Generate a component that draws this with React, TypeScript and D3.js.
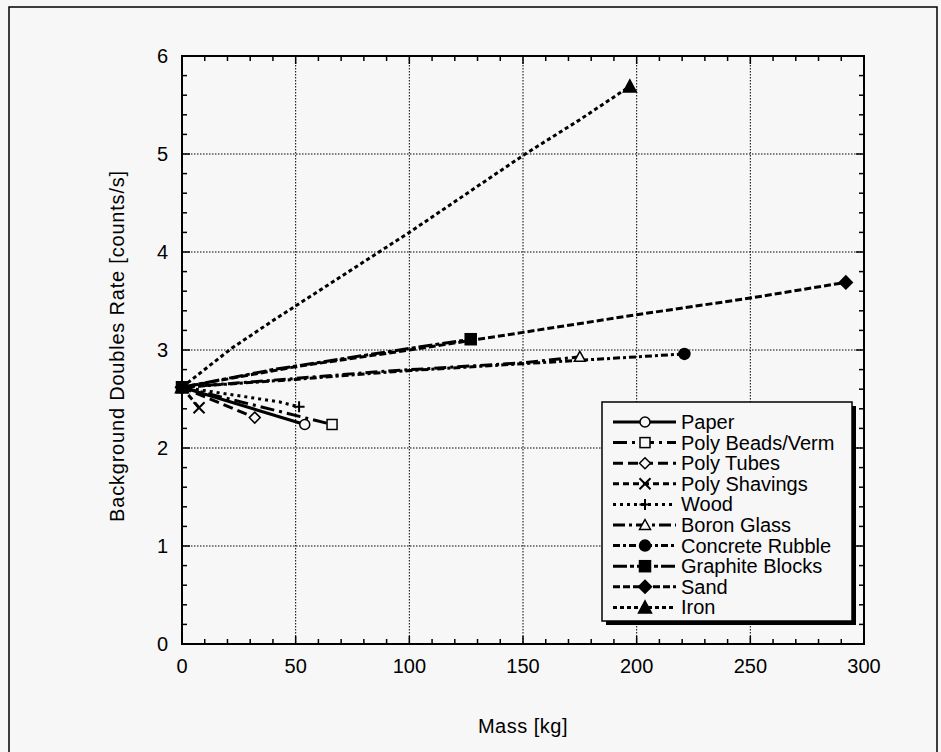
import React from "react";
import * as d3 from "d3";

// ---- data ----
const seriesNames = [
  "Paper",
  "Poly Beads/Verm",
  "Poly Tubes",
  "Poly Shavings",
  "Wood",
  "Boron Glass",
  "Concrete Rubble",
  "Graphite Blocks",
  "Sand",
  "Iron",
];
const paperMass = [0, 54];
const paperRate = [2.62, 2.24];
const beadsMass = [0, 66];
const beadsRate = [2.62, 2.24];
const tubesMass = [0, 32];
const tubesRate = [2.62, 2.31];
const shavingsMass = [0, 7.5];
const shavingsRate = [2.62, 2.41];
const woodMass = [0, 43, 51.5];
const woodRate = [2.62, 2.47, 2.42];
const boronMass = [0, 50, 87, 150, 175];
const boronRate = [2.62, 2.71, 2.78, 2.87, 2.93];
const concreteMass = [0, 50, 100, 150, 200, 221];
const concreteRate = [2.62, 2.7, 2.79, 2.86, 2.93, 2.96];
const graphiteMass = [0, 40, 87, 127];
const graphiteRate = [2.62, 2.8, 2.97, 3.11];
const sandMass = [0, 50, 100, 150, 200, 250, 292];
const sandRate = [2.62, 2.83, 3.0, 3.18, 3.36, 3.53, 3.69];
const ironMass = [0, 22, 40, 100, 151, 175, 197];
const ironRate = [2.62, 3.02, 3.3, 4.2, 5.0, 5.35, 5.69];

const xTicks = [0, 50, 100, 150, 200, 250, 300];
const yTicks = [0, 1, 2, 3, 4, 5, 6];

const massArrays = [paperMass, beadsMass, tubesMass, shavingsMass, woodMass, boronMass, concreteMass, graphiteMass, sandMass, ironMass];
const rateArrays = [paperRate, beadsRate, tubesRate, shavingsRate, woodRate, boronRate, concreteRate, graphiteRate, sandRate, ironRate];

// ---- styles ----
const dashes = [
  "none",
  "14,5,3,5",
  "10,5",
  "6,4",
  "3,4",
  "12,4,3,4",
  "7,3,3,3",
  "14,3,4,3",
  "7,3",
  "4,3",
];
const markerTypes = [
  "circleOpen",
  "squareOpen",
  "diamondOpen",
  "x",
  "plus",
  "triangleOpen",
  "circle",
  "square",
  "diamond",
  "triangle",
];

const BG = "#f7f7f7";
const W = 941;
const H = 752;
const M = { left: 182, right: 864, top: 56, bottom: 644 };
const FONT = "'Liberation Sans', Arial, sans-serif";

function Marker({ type, x, y }: { type: string; x: number; y: number }) {
  const s = 5.5;
  const common = { stroke: "#000", strokeWidth: 1.5 };
  switch (type) {
    case "circleOpen":
      return <circle cx={x} cy={y} r={s - 0.5} fill={BG} {...common} />;
    case "circle":
      return <circle cx={x} cy={y} r={s} fill="#000" {...common} />;
    case "squareOpen":
      return <rect x={x - s + 0.5} y={y - s + 0.5} width={2 * s - 1} height={2 * s - 1} fill={BG} {...common} />;
    case "square":
      return <rect x={x - s} y={y - s} width={2 * s} height={2 * s} fill="#000" {...common} />;
    case "diamondOpen":
      return <path d={`M${x},${y - s}L${x + s},${y}L${x},${y + s}L${x - s},${y}Z`} fill={BG} {...common} />;
    case "diamond":
      return <path d={`M${x},${y - s - 1}L${x + s + 1},${y}L${x},${y + s + 1}L${x - s - 1},${y}Z`} fill="#000" {...common} />;
    case "triangleOpen":
      return <path d={`M${x},${y - s}L${x + s},${y + s - 1}L${x - s},${y + s - 1}Z`} fill={BG} {...common} />;
    case "triangle":
      return <path d={`M${x},${y - s - 1}L${x + s + 1},${y + s}L${x - s - 1},${y + s}Z`} fill="#000" {...common} />;
    case "x":
      return <path d={`M${x - s},${y - s}L${x + s},${y + s}M${x - s},${y + s}L${x + s},${y - s}`} fill="none" stroke="#000" strokeWidth={2} />;
    case "plus":
      return <path d={`M${x - s},${y}L${x + s},${y}M${x},${y - s}L${x},${y + s}`} fill="none" stroke="#000" strokeWidth={2} />;
  }
  return null;
}

export default function App() {
  const x = d3.scaleLinear().domain([0, 300]).range([M.left, M.right]);
  const y = d3.scaleLinear().domain([0, 6]).range([M.bottom, M.top]);
  const line = d3
    .line<[number, number]>()
    .x((d) => x(d[0]))
    .y((d) => y(d[1]));

  const xMinor = d3.range(0, 301, 10);
  const yMinor = d3.range(0, 6.001, 0.2);

  const series = seriesNames.map((name, i) => ({
    name,
    pts: massArrays[i].map((m, j) => [m, rateArrays[i][j]] as [number, number]),
    dash: dashes[i],
    marker: markerTypes[i],
  }));

  // legend geometry
  const lg = { x: 602, y: 402, w: 250, h: 219 };
  const rowH = 20.6;

  return (
    <svg
      width={W}
      height={H}
      style={{ position: "absolute", left: 0, top: 0, background: BG }}
      fontFamily={FONT}
    >
      <rect x={0} y={0} width={W} height={H} fill={BG} />
      {/* outer frame */}
      <rect x={9} y={7} width={928} height={H + 20} fill="none" stroke="#000" strokeWidth={1.5} />

      {/* grid */}
      {xTicks.slice(1, -1).map((t) => (
        <line key={"gx" + t} x1={x(t)} x2={x(t)} y1={M.top} y2={M.bottom} stroke="#000" strokeWidth={1} strokeDasharray="1.5,1.5" />
      ))}
      {yTicks.slice(1, -1).map((t) => (
        <line key={"gy" + t} x1={M.left} x2={M.right} y1={y(t)} y2={y(t)} stroke="#000" strokeWidth={1} strokeDasharray="1.5,1.5" />
      ))}

      {/* ticks */}
      {xMinor.map((t) => {
        const major = t % 50 === 0;
        const len = major ? 8 : 5;
        return (
          <g key={"tx" + t}>
            <line x1={x(t)} x2={x(t)} y1={M.bottom} y2={M.bottom - len} stroke="#000" strokeWidth={1.5} />
            <line x1={x(t)} x2={x(t)} y1={M.top} y2={M.top + len} stroke="#000" strokeWidth={1.5} />
          </g>
        );
      })}
      {yMinor.map((t, i) => {
        const major = i % 5 === 0;
        const len = major ? 8 : 5;
        return (
          <g key={"ty" + i}>
            <line x1={M.left} x2={M.left + len} y1={y(t)} y2={y(t)} stroke="#000" strokeWidth={1.5} />
            <line x1={M.right} x2={M.right - len} y1={y(t)} y2={y(t)} stroke="#000" strokeWidth={1.5} />
          </g>
        );
      })}

      {/* axes frame */}
      <rect x={M.left} y={M.top} width={M.right - M.left} height={M.bottom - M.top} fill="none" stroke="#000" strokeWidth={2} />

      {/* tick labels */}
      {xTicks.map((t) => (
        <text key={"lx" + t} x={x(t)} y={M.bottom + 29} textAnchor="middle" fontSize={20}>
          {t}
        </text>
      ))}
      {yTicks.map((t) => (
        <text key={"ly" + t} x={M.left - 14} y={y(t) + 7} textAnchor="end" fontSize={20}>
          {t}
        </text>
      ))}

      {/* axis titles */}
      <text x={(M.left + M.right) / 2} y={733} textAnchor="middle" fontSize={20} letterSpacing={0.5}>
        Mass [kg]
      </text>
      <text
        transform={`translate(124,${(M.top + M.bottom) / 2 - 4}) rotate(-90)`}
        textAnchor="middle"
        fontSize={20}
        letterSpacing={0.8}
      >
        Background Doubles Rate [counts/s]
      </text>

      {/* series */}
      {series.map((s) => (
        <path
          key={"l" + s.name}
          d={line(s.pts) || ""}
          fill="none"
          stroke="#000"
          strokeWidth={3}
          strokeDasharray={s.dash}
        />
      ))}
      {series.map((s) => {
        const first = s.pts[0];
        const last = s.pts[s.pts.length - 1];
        return (
          <g key={"m" + s.name}>
            <Marker type={s.marker} x={x(first[0])} y={y(first[1])} />
            <Marker type={s.marker} x={x(last[0])} y={y(last[1])} />
          </g>
        );
      })}

      {/* legend */}
      <rect x={lg.x + 4} y={lg.y + 4} width={lg.w} height={lg.h} fill="#000" />
      <rect x={lg.x} y={lg.y} width={lg.w} height={lg.h} fill={BG} stroke="#000" strokeWidth={1.5} />
      {series.map((s, i) => {
        const cy = lg.y + 20 + i * rowH;
        return (
          <g key={"lg" + s.name}>
            <line x1={lg.x + 11} x2={lg.x + 74} y1={cy} y2={cy} stroke="#000" strokeWidth={3} strokeDasharray={s.dash} />
            <Marker type={s.marker} x={lg.x + 43} y={cy} />
            <text x={lg.x + 79} y={cy + 7} fontSize={20}>
              {s.name}
            </text>
          </g>
        );
      })}
    </svg>
  );
}
